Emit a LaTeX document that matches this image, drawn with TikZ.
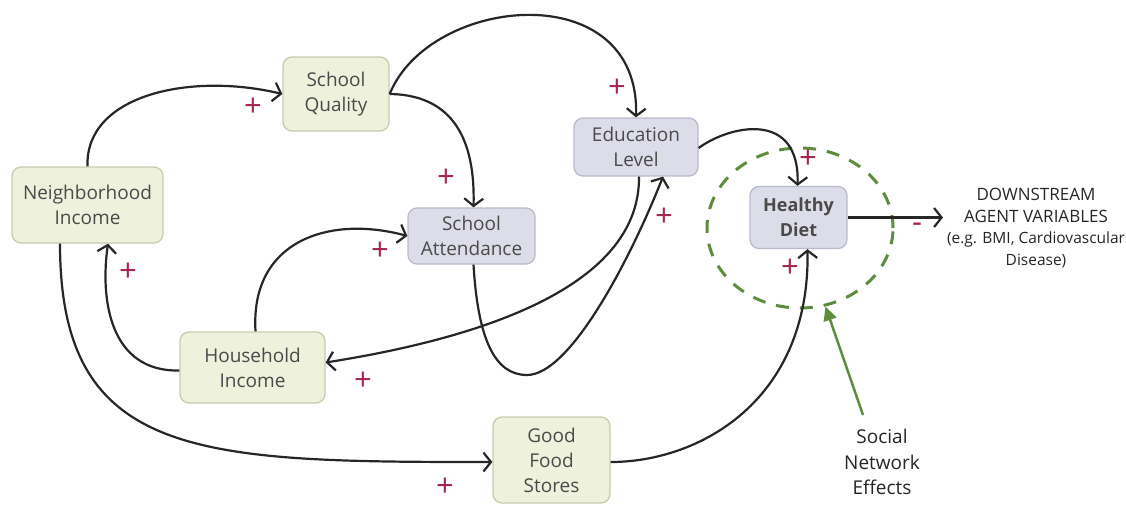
\documentclass[tikz,border=0pt]{standalone}
\usepackage{fontspec}
\setmainfont{Open Sans}
\usetikzlibrary{arrows.meta,shapes.geometric}
\definecolor{gfill}{HTML}{EEF2DC}
\definecolor{gline}{HTML}{C6CDAE}
\definecolor{bfill}{HTML}{DCDDE8}
\definecolor{bline}{HTML}{B9BBCB}
\definecolor{txt}{HTML}{4A4A4A}
\definecolor{plusc}{HTML}{A3264F}
\definecolor{sngreen}{HTML}{5E8C3E}
\begin{document}
\begin{tikzpicture}[x=1pt,y=-1pt,
  box/.style={draw, rounded corners=9pt, line width=1.3pt, align=center, inner sep=0pt,
    text=txt, font=\fontsize{19}{25}\selectfont},
  gbox/.style={box, fill=gfill, draw=gline},
  bbox/.style={box, fill=bfill, draw=bline},
  link/.style={line width=2.2pt, draw=black!85, -{Straight Barb[length=7.5pt,width=19pt]}},
  sign/.style={text=plusc, font=\fontsize{31}{31}\selectfont, inner sep=0pt}
]
\useasboundingbox (0,0) rectangle (1126,506);

% nodes
\node[gbox, minimum width=106, minimum height=74] (SQ) at (336,94) {School\\Quality};
\node[gbox, minimum width=151, minimum height=76] (NI) at (87.5,205) {Neighborhood\\Income};
\node[bbox, minimum width=127, minimum height=56] (SA) at (471.5,236) {School\\Attendance};
\node[bbox, minimum width=124, minimum height=58] (EL) at (636,147) {Education\\Level};
\node[bbox, minimum width=97, minimum height=62, font=\fontsize{18}{25}\selectfont\bfseries] (HD) at (798.5,217.5) {Healthy\\Diet};
\node[gbox, minimum width=145, minimum height=71] (HI) at (252.5,367.5) {Household\\Income};
\node[gbox, minimum width=117, minimum height=86] (GF) at (551.5,460) {Good\\Food\\Stores};

\node[align=center, text=black!85, inner sep=0pt, font=\fontsize{17}{21.7}\selectfont] (DS) at (1036,228)
  {DOWNSTREAM\\
   AGENT VARIABLES\\
   {\fontsize{15.5}{21.7}\selectfont (e.g. BMI, Cardiovascular}\\
   {\fontsize{15.5}{21.7}\selectfont Disease)}};
\coordinate (DSin) at (943,217.5);

\node[draw=sngreen, line width=3pt, dash pattern=on 13pt off 11pt, ellipse,
  minimum width=186, minimum height=160, inner sep=0pt] (SNC) at (800,228) {};
\node[align=center, text=black!85, font=\fontsize{19}{25.5}\selectfont, inner sep=0pt] (SN) at (882,462) {Social\\Network\\Effects};
\coordinate (SNtail) at (863,415);

% connectors
\draw[link] (NI.north) .. controls (85,95) and (190,72) .. (SQ.west);
\draw[link] (SQ.east) .. controls (430,-5) and (640,-25) .. (EL.north);
\draw[link] (SQ.east) .. controls (460,95) and (475,150) .. ([xshift=2pt]SA.north);
\draw[link] ([xshift=3pt]HI.north) .. controls (250,240) and (330,215) .. (SA.west);
\draw[link] ([yshift=-3pt]HI.west) .. controls (110,372) and (100,300) .. ([xshift=20.5pt]NI.south);
\draw[link] ([xshift=-27.5pt]NI.south) .. controls (60,460) and (200,462) .. ([yshift=-2pt]GF.west);
\draw[link] ([xshift=3pt]EL.south) .. controls (640,280) and (500,335) .. ([yshift=5pt]HI.east);
\draw[link] ([xshift=2pt]SA.south) .. controls (478,340) and (495,375) .. (527,375)
   .. controls (570,375) and (630,260) .. ([xshift=27pt]EL.south);
\draw[link] ([yshift=-1pt]EL.east) .. controls (730,125) and (800,110) .. ([xshift=-1pt]HD.north);
\draw[link] ([yshift=-2pt]GF.east) .. controls (700,462) and (810,400) .. ([xshift=9pt]HD.south);
\draw[link] (HD.east) -- (DSin);
\draw[line width=2.5pt, draw=sngreen, -{Triangle[length=14pt,width=13pt]}] (SNtail) -- (SNC.288);

% signs
\node[sign] (p1) at (253,107) {+};
\node[sign] (p2) at (617,88) {+};
\node[sign] (p3) at (446,178) {+};
\node[sign] (p4) at (380,251) {+};
\node[sign] (p5) at (128,272) {+};
\node[sign] (p6) at (363,381) {+};
\node[sign] (p7) at (445,487) {+};
\node[sign] (p8) at (664,217) {+};
\node[sign] (p9) at (808,159) {+};
\node[sign] (p10) at (790,268) {+};
\node[sign] (m1) at (917,228) {-};
\end{tikzpicture}
\end{document}
